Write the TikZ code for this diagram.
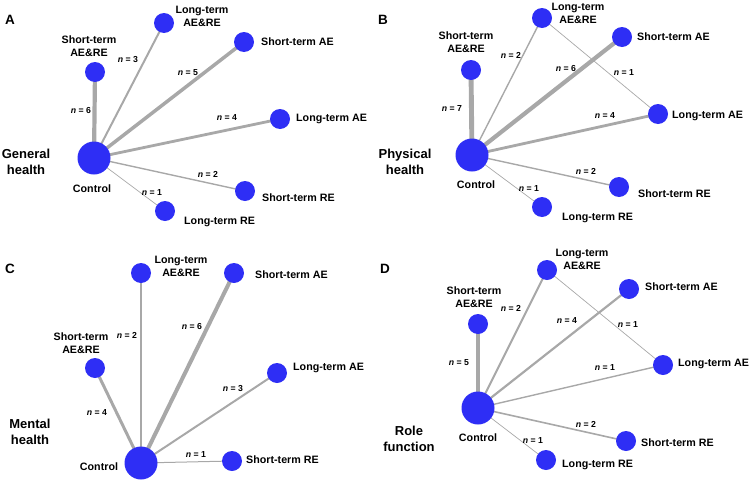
\documentclass[tikz,border=0pt]{standalone}
\usepackage{fontspec}
\setmainfont{Liberation Sans}
\usetikzlibrary{backgrounds}
\tikzset{
  arm/.style={circle, fill=nodeblue, draw=none, minimum size=20pt, inner sep=0pt},
  hub/.style={circle, fill=nodeblue, draw=none, minimum size=33pt, inner sep=0pt},
  lbl/.style={font=\bfseries\fontsize{10.7}{13}\selectfont, inner sep=0pt, align=center},
  lblw/.style={lbl, anchor=west},
  ttl/.style={font=\bfseries\fontsize{13}{15.5}\selectfont, inner sep=0pt, align=center},
  letter/.style={font=\bfseries\fontsize{13.5}{15}\selectfont, inner sep=0pt},
  nl/.style={font=\bfseries\fontsize{8.7}{10}\selectfont, inner sep=0pt},
  link/.style={draw=linkgray, line cap=butt},
}
\definecolor{nodeblue}{RGB}{46,46,245}
\definecolor{linkgray}{RGB}{168,168,168}
\newcommand\netlink[3]{\draw[link, line width=#3pt] (#1.center) -- (#2.center);}
\begin{document}
\begin{tikzpicture}[x=1pt,y=-1pt]
\useasboundingbox (0,0) rectangle (750,482);
% ---------------- Panel A ----------------
\node[letter] (letA) at (10,20) {A};
\node[hub] (ctrlA) at (94,158) {};
\node[arm] (sarA) at (95,72) {};
\node[arm] (larA) at (164,23) {};
\node[arm] (saeA) at (244,42) {};
\node[arm] (laeA) at (280,119) {};
\node[arm] (sreA) at (245,191) {};
\node[arm] (lreA) at (165,211) {};
\node[lbl] (tsarA) at (89,46) {Short-term\\AE\&RE};
\node[lbl] (tlarA) at (202,16) {Long-term\\AE\&RE};
\node[lblw] (tsaeA) at (261,42) {Short-term AE};
\node[lblw] (tlaeA) at (296,119) {Long-term AE};
\node[lblw] (tsreA) at (262,198) {Short-term RE};
\node[lblw] (tlreA) at (184,222) {Long-term RE};
\node[lbl] (tctrlA) at (92,189) {Control};
\node[ttl] (titA) at (26,162) {General\\health};
\node[nl] (nA1) at (81,111) {\textit{n} = 6};
\node[nl] (nA2) at (128,60) {\textit{n} = 3};
\node[nl] (nA3) at (188,73) {\textit{n} = 5};
\node[nl] (nA4) at (227,118) {\textit{n} = 4};
\node[nl] (nA5) at (208,174) {\textit{n} = 2};
\node[nl] (nA6) at (152,193) {\textit{n} = 1};
\begin{scope}[on background layer]
\netlink{ctrlA}{sarA}{4.2}
\netlink{ctrlA}{larA}{2.0}
\netlink{ctrlA}{saeA}{3.5}
\netlink{ctrlA}{laeA}{2.8}
\netlink{ctrlA}{sreA}{1.4}
\netlink{ctrlA}{lreA}{0.7}
\end{scope}
% ---------------- Panel B ----------------
\node[letter] (letB) at (383,20) {B};
\node[hub] (ctrlB) at (472,155) {};
\node[arm] (sarB) at (471,70) {};
\node[arm] (larB) at (542,18) {};
\node[arm] (saeB) at (622,37) {};
\node[arm] (laeB) at (658,114) {};
\node[arm] (sreB) at (619,187) {};
\node[arm] (lreB) at (542,207) {};
\node[lbl] (tsarB) at (466,42) {Short-term\\AE\&RE};
\node[lbl] (tlarB) at (578,13) {Long-term\\AE\&RE};
\node[lblw] (tsaeB) at (637,37) {Short-term AE};
\node[lblw] (tlaeB) at (672,116) {Long-term AE};
\node[lblw] (tsreB) at (638,194) {Short-term RE};
\node[lblw] (tlreB) at (562,218) {Long-term RE};
\node[lbl] (tctrlB) at (476,185) {Control};
\node[ttl] (titB) at (405,162) {Physical\\health};
\node[nl] (nB1) at (452,109) {\textit{n} = 7};
\node[nl] (nB2) at (511,55) {\textit{n} = 2};
\node[nl] (nB3) at (566,69) {\textit{n} = 6};
\node[nl] (nB4) at (624,73) {\textit{n} = 1};
\node[nl] (nB5) at (605,116) {\textit{n} = 4};
\node[nl] (nB6) at (586,171) {\textit{n} = 2};
\node[nl] (nB7) at (529,189) {\textit{n} = 1};
\begin{scope}[on background layer]
\netlink{ctrlB}{sarB}{4.9}
\netlink{ctrlB}{larB}{1.4}
\netlink{ctrlB}{saeB}{4.2}
\netlink{ctrlB}{laeB}{2.8}
\netlink{ctrlB}{sreB}{1.4}
\netlink{ctrlB}{lreB}{0.7}
\netlink{larB}{laeB}{0.7}
\end{scope}
% ---------------- Panel C ----------------
\node[letter] (letC) at (10,269) {C};
\node[hub] (ctrlC) at (141,463) {};
\node[arm] (larC) at (141,273) {};
\node[arm] (saeC) at (234,273) {};
\node[arm] (sarC) at (95,368) {};
\node[arm] (laeC) at (277,373) {};
\node[arm] (sreC) at (232,461) {};
\node[lbl] (tlarC) at (181,266) {Long-term\\AE\&RE};
\node[lblw] (tsaeC) at (255,275) {Short-term AE};
\node[lbl] (tsarC) at (81,343) {Short-term\\AE\&RE};
\node[lblw] (tlaeC) at (293,368) {Long-term AE};
\node[lblw] (tsreC) at (246,460) {Short-term RE};
\node[lbl] (tctrlC) at (99,467) {Control};
\node[ttl] (titC) at (30,432) {Mental\\health};
\node[nl] (nC1) at (127,335) {\textit{n} = 2};
\node[nl] (nC2) at (192,327) {\textit{n} = 6};
\node[nl] (nC3) at (97,413) {\textit{n} = 4};
\node[nl] (nC4) at (233,389) {\textit{n} = 3};
\node[nl] (nC5) at (196,455) {\textit{n} = 1};
\begin{scope}[on background layer]
\netlink{ctrlC}{larC}{1.4}
\netlink{ctrlC}{saeC}{4.0}
\netlink{ctrlC}{sarC}{3.0}
\netlink{ctrlC}{laeC}{2.0}
\netlink{ctrlC}{sreC}{1.0}
\end{scope}
% ---------------- Panel D ----------------
\node[letter] (letD) at (385,269) {D};
\node[hub] (ctrlD) at (478,408) {};
\node[arm] (sarD) at (478,324) {};
\node[arm] (larD) at (547,270) {};
\node[arm] (saeD) at (629,289) {};
\node[arm] (laeD) at (663,365) {};
\node[arm] (sreD) at (626,441) {};
\node[arm] (lreD) at (546,460) {};
\node[lbl] (tsarD) at (474,297) {Short-term\\AE\&RE};
\node[lbl] (tlarD) at (582,259) {Long-term\\AE\&RE};
\node[lblw] (tsaeD) at (645,287) {Short-term AE};
\node[lblw] (tlaeD) at (678,364) {Long-term AE};
\node[lblw] (tsreD) at (641,443) {Short-term RE};
\node[lblw] (tlreD) at (562,465) {Long-term RE};
\node[lbl] (tctrlD) at (478,438) {Control};
\node[ttl] (titD) at (409,439) {Role\\function};
\node[nl] (nD1) at (459,363) {\textit{n} = 5};
\node[nl] (nD2) at (511,308) {\textit{n} = 2};
\node[nl] (nD3) at (567,321) {\textit{n} = 4};
\node[nl] (nD4) at (628,325) {\textit{n} = 1};
\node[nl] (nD5) at (605,368) {\textit{n} = 1};
\node[nl] (nD6) at (586,424) {\textit{n} = 2};
\node[nl] (nD7) at (533,441) {\textit{n} = 1};
\begin{scope}[on background layer]
\netlink{ctrlD}{sarD}{4.2}
\netlink{ctrlD}{larD}{2.0}
\netlink{ctrlD}{saeD}{2.2}
\netlink{ctrlD}{laeD}{1.4}
\netlink{ctrlD}{sreD}{1.6}
\netlink{ctrlD}{lreD}{0.7}
\netlink{larD}{laeD}{0.7}
\end{scope}
\end{tikzpicture}
\end{document}
